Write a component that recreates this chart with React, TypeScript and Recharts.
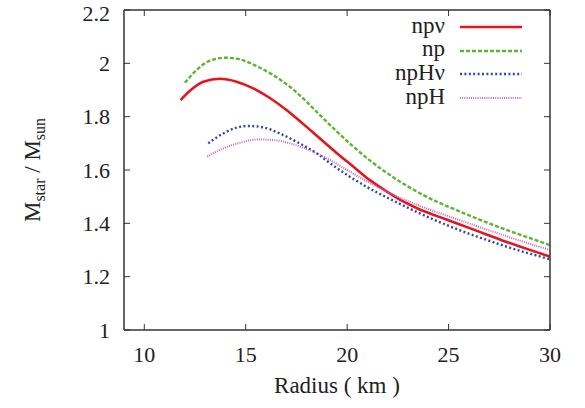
import { LineChart, Line, XAxis, YAxis, Legend } from 'recharts';

const FONT = '"Liberation Serif", "DejaVu Serif", serif';

const xTicks = [10, 15, 20, 25, 30];
const yTicks = [1, 1.2, 1.4, 1.6, 1.8, 2, 2.2];
const xDomain = [9, 30];
const yDomain = [1, 2.2];

// npν
const npNuR = [11.79, 12.25, 12.91, 13.73, 14.55, 15.37, 16.19, 17.01, 17.83, 18.66, 19.48, 20.3, 21.12, 21.94, 22.76, 23.58, 24.4, 25.22, 26.04, 26.87, 27.68, 28.51, 29.3, 30];
const npNuM = [1.862, 1.897, 1.931, 1.942, 1.931, 1.906, 1.87, 1.825, 1.773, 1.718, 1.664, 1.613, 1.562, 1.52, 1.482, 1.452, 1.428, 1.405, 1.382, 1.358, 1.335, 1.313, 1.293, 1.275];

// np
const npR = [12.0, 12.58, 13.24, 13.98, 14.71, 15.53, 16.35, 17.18, 18.0, 18.66, 19.48, 20.3, 21.12, 21.94, 22.76, 23.58, 24.4, 25.22, 26.04, 26.87, 27.68, 28.51, 29.3, 30];
const npM = [1.927, 1.975, 2.01, 2.021, 2.015, 1.99, 1.956, 1.912, 1.856, 1.806, 1.745, 1.688, 1.636, 1.59, 1.549, 1.513, 1.482, 1.455, 1.429, 1.404, 1.38, 1.358, 1.337, 1.318];

// npHν
const npHNuR = [13.15, 13.89, 14.55, 15.12, 15.86, 16.68, 17.5, 18.49, 19.31, 20.13, 20.96, 21.78, 22.6, 23.42, 24.24, 25.06, 26.04, 26.87, 27.68, 28.51, 29.3, 30];
const npHNuM = [1.7, 1.737, 1.759, 1.765, 1.76, 1.737, 1.706, 1.663, 1.617, 1.575, 1.537, 1.504, 1.473, 1.443, 1.415, 1.389, 1.36, 1.338, 1.317, 1.297, 1.28, 1.265];

// npH
const npHR = [13.1, 13.89, 14.71, 15.7, 16.68, 17.67, 18.49, 19.31, 20.13, 20.96, 21.78, 22.6, 23.42, 24.24, 25.06, 26.04, 26.87, 27.68, 28.51, 29.3, 30];
const npHM = [1.65, 1.681, 1.702, 1.715, 1.709, 1.688, 1.663, 1.631, 1.594, 1.558, 1.525, 1.496, 1.47, 1.447, 1.425, 1.399, 1.377, 1.356, 1.335, 1.316, 1.3];

const toPoints = (r: number[], m: number[]) => r.map((x, i) => ({ r: x, m: m[i] }));

const series = [
  { name: 'npν', data: toPoints(npNuR, npNuM), color: '#e3161e', width: 2.6, dash: undefined },
  { name: 'np', data: toPoints(npR, npM), color: '#5db62e', width: 2.4, dash: '4 2' },
  { name: 'npHν', data: toPoints(npHNuR, npHNuM), color: '#2b4ba8', width: 2.4, dash: '2 2.4' },
  { name: 'npH', data: toPoints(npHR, npHM), color: '#cc66c0', width: 2, dash: '1 1.2' },
];

// plot box (matches chart margins + axis sizes below)
const W = 585;
const H = 408;
const box = { left: 124, top: 10, right: 550, bottom: 330 };

const axisLine = { stroke: '#333', strokeWidth: 1.5 };
const tickLine = { stroke: '#333', strokeWidth: 1 };
const tickStyle = { fill: '#222', fontSize: 22, fontFamily: FONT };

const sx = (v: number) =>
  box.left + ((v - xDomain[0]) / (xDomain[1] - xDomain[0])) * (box.right - box.left);
const sy = (v: number) =>
  box.bottom - ((v - yDomain[0]) / (yDomain[1] - yDomain[0])) * (box.bottom - box.top);

// top + right frame edges with mirrored inward ticks (drawn inside the chart svg)
function FrameEdges() {
  return (
    <g>
      <line x1={box.left} y1={box.top} x2={box.right} y2={box.top} stroke="#333" strokeWidth={1.5} />
      <line x1={box.right} y1={box.top} x2={box.right} y2={box.bottom} stroke="#333" strokeWidth={1.5} />
      {xTicks.map((t) => (
        <line key={`t${t}`} x1={sx(t)} x2={sx(t)} y1={box.top} y2={box.top + 6} stroke="#333" />
      ))}
      {yTicks.map((t) => (
        <line key={`r${t}`} x1={box.right} x2={box.right - 6} y1={sy(t)} y2={sy(t)} stroke="#333" />
      ))}
    </g>
  );
}

function LegendBox() {
  return (
    <div style={{ position: 'relative', width: W, height: 0, fontFamily: FONT }}>
      {series.map((s, i) => {
        const cy = 27 + i * 23.7;
        return (
          <div key={s.name}>
            <span
              style={{
                position: 'absolute',
                right: 140,
                top: cy - 12.4,
                fontSize: 23,
                lineHeight: '22px',
                color: '#222',
                whiteSpace: 'nowrap',
              }}
            >
              {s.name}
            </span>
            <svg style={{ position: 'absolute', left: 460, top: cy - 3 }} width={62} height={6}>
              <line
                x1={0}
                y1={3}
                x2={62}
                y2={3}
                stroke={s.color}
                strokeWidth={s.width}
                strokeDasharray={s.dash}
              />
            </svg>
          </div>
        );
      })}
    </div>
  );
}

function YLabel() {
  return (
    <g>
      <text
        transform="translate(40, 170) rotate(-90)"
        textAnchor="middle"
        fontFamily={FONT}
        fontSize={23}
        fill="#222"
      >
        <tspan>M</tspan>
        <tspan fontSize={16} dy={5}>star</tspan>
        <tspan dy={-5}> / M</tspan>
        <tspan fontSize={16} dy={5}>sun</tspan>
      </text>
      <FrameEdges />
    </g>
  );
}

export default function App() {
  return (
    <div style={{ position: 'absolute', left: 0, top: 0, width: W, height: H, background: '#fff' }}>
      <LineChart
        width={W}
        height={H}
        margin={{ top: box.top, right: W - box.right, bottom: 0, left: 0 }}
      >
        <XAxis
          dataKey="r"
          type="number"
          domain={xDomain}
          ticks={xTicks}
          height={H - box.bottom}
          tickSize={-6}
          tickMargin={22}
          axisLine={axisLine}
          tickLine={tickLine}
          tick={tickStyle}
          allowDataOverflow
          label={{
            value: 'Radius ( km )',
            position: 'insideBottom',
            offset: 15,
            fill: '#222',
            fontSize: 23,
            fontFamily: FONT,
          }}
        />
        <YAxis
          type="number"
          domain={yDomain}
          ticks={yTicks}
          width={box.left}
          tickSize={-6}
          tickMargin={20}
          axisLine={axisLine}
          tickLine={tickLine}
          tick={tickStyle}
          allowDataOverflow
          label={{ content: () => <YLabel /> }}
        />
        <Legend
          verticalAlign="top"
          align="left"
          wrapperStyle={{ left: 0, top: 0, width: W, height: 0 }}
          content={() => <LegendBox />}
        />
        {series.map((s) => (
          <Line
            key={s.name}
            data={s.data}
            dataKey="m"
            name={s.name}
            type="monotone"
            stroke={s.color}
            strokeWidth={s.width}
            strokeDasharray={s.dash}
            dot={false}
            activeDot={false}
            isAnimationActive={false}
          />
        ))}
      </LineChart>
    </div>
  );
}
